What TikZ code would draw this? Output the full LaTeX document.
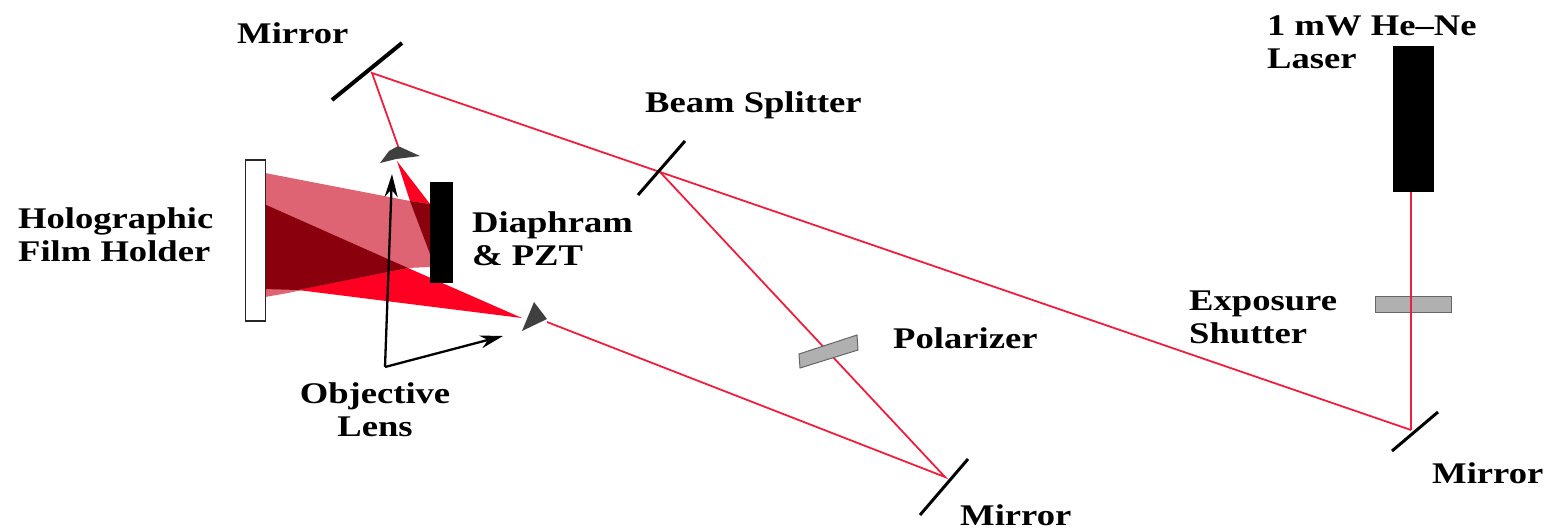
\documentclass[tikz,border=0pt]{standalone}
\usepackage{fontspec}
\setmainfont{Liberation Serif}[FakeStretch=1.22]
\usetikzlibrary{arrows.meta}
\definecolor{beamred}{RGB}{238,30,62}
\definecolor{conered}{RGB}{255,0,35}
\definecolor{exposed}{RGB}{222,100,115}
\definecolor{overlap}{RGB}{138,0,12}
\definecolor{optic}{RGB}{64,64,64}
\definecolor{filter}{RGB}{176,176,176}
\tikzset{
  lbl/.style={font=\fontsize{30}{33}\selectfont\bfseries, inner sep=0pt, align=left, anchor=west, text=black},
  clbl/.style={lbl, align=center, anchor=center},
  beam/.style={draw=beamred, line width=1.8pt},
  mirrorbar/.style={draw=black, line width=4pt},
  solid block/.style={fill=black, draw=none},
  pointer/.style={draw=black, line width=2.3pt, -{Stealth[length=23pt,width=13pt]}}
}
\begin{document}
\begin{tikzpicture}[x=1pt,y=-1pt]
\useasboundingbox (0,0) rectangle (1547,530);

% Beam path reference points
\coordinate (mTopA) at (332,100);  \coordinate (mTopB) at (402,43);
\coordinate (mTopHit) at (372,73);
\coordinate (bsA) at (638,195);    \coordinate (bsB) at (685,141);
\coordinate (bsHit) at (660,172);
\coordinate (mBotA) at (920,515);  \coordinate (mBotB) at (968,459);
\coordinate (mBotHit) at (945,477);
\coordinate (mRightA) at (1392,451); \coordinate (mRightB) at (1438,412);
\coordinate (mRightHit) at (1411,430);
\coordinate (axis) at (385,367);

% Exposed area on the film and the expanded beams
\fill[exposed] (265,173) -- (410,201) -- (430,204) -- (430,267) -- (408,268) -- (288,293) -- (265,297) -- cycle;
\fill[conered] (522,318) -- (408,268) -- (298,290) -- cycle;
\fill[overlap] (264,204) -- (408,268) -- (298,290) -- (264,289) -- cycle;
\fill[conered] (397,161) -- (430,204) -- (410,201) -- cycle;
\fill[overlap] (410,201) -- (430,204) -- (430,254) -- cycle;

% Film holder and diaphragm
\node[draw=black!85, line width=1.6pt, fill=white, minimum width=20pt, minimum height=161pt, inner sep=0pt] (film) at (255.5,240.5) {};
\node[solid block, minimum width=23pt, minimum height=101pt, inner sep=0pt] (diaphragm) at (441.5,232.5) {};

% Laser and shutter
\node[solid block, minimum width=41pt, minimum height=146pt, inner sep=0pt] (laser) at (1413.5,119) {};
\node[fill=filter, draw=black!60, line width=1pt, minimum width=76pt, minimum height=16pt, inner sep=0pt] (shutter) at (1413,304) {};

% Objective lenses
\fill[optic] (398,146) -- (420,156) -- (396,159) -- (380,163) -- (389,151) -- cycle;
\fill[optic] (534,302) -- (547,319) -- (522,331) -- cycle;

% Beams
\draw[beam] (laser.south -| mRightHit) -- (mRightHit);
\draw[beam] (mRightHit) -- (bsHit) -- (mTopHit) -- (398,146);
\draw[beam] (bsHit) -- (mBotHit) -- (547,322);

% Polarizer in the object arm
\fill[filter, draw=black!60, line width=1pt] (799,354) -- (857,335) -- (858,350) -- (800,368) -- cycle;

% Mirrors and splitter
\draw[mirrorbar] (mTopA) -- (mTopB);
\draw[mirrorbar, line width=3pt] (bsA) -- (bsB);
\draw[mirrorbar, line width=3pt] (mBotA) -- (mBotB);
\draw[mirrorbar, line width=3pt] (mRightA) -- (mRightB);

% Labels
\node[lbl] (tMirrorTop) at (237,33) {Mirror};
\node[lbl] (tLaser) at (1267,42) {1 mW He–Ne\\Laser};
\node[lbl] (tSplitter) at (645,105) {Beam Splitter};
\node[lbl] (tFilm) at (18,235) {Holographic\\Film Holder};
\node[lbl] (tDiaphragm) at (472,239) {Diaphram\\\& PZT};
\node[lbl] (tShutter) at (1189,317) {Exposure\\Shutter};
\node[lbl] (tPolarizer) at (893,338) {Polarizer};
\node[clbl] (tObjective) at (375,410) {Objective\\Lens};
\node[lbl] (tMirrorRight) at (1432,473) {Mirror};
\node[lbl] (tMirrorBot) at (960,515) {Mirror};

% Pointers from the objective-lens label
\draw[pointer] (axis) -- (392,174);
\draw[pointer] (axis) -- (503,336);
\end{tikzpicture}
\end{document}
